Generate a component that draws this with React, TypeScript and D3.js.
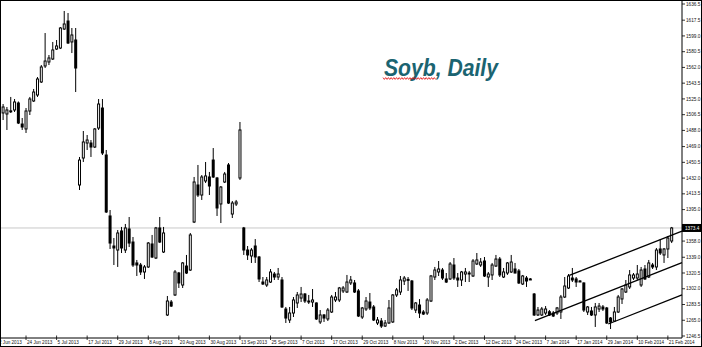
import React from "react";
import * as d3 from "d3";

// Soybean daily OHLC bars, [open, high, low, close], oldest first.
const candles: [number, number, number, number][] = [
  [1508.5, 1519.0, 1500.2, 1515.5], [1507.3, 1515.5, 1488.5, 1512.0], [1510.5, 1527.3, 1508.5, 1511.0],
  [1512.0, 1524.9, 1509.6, 1521.4], [1520.2, 1522.0, 1495.5, 1496.7], [1495.5, 1502.6, 1488.5, 1492.0],
  [1489.7, 1514.3, 1485.0, 1510.8], [1510.8, 1527.3, 1506.1, 1524.9], [1522.6, 1536.7, 1521.4, 1533.1],
  [1529.6, 1550.7, 1527.3, 1548.4], [1544.9, 1564.8, 1543.7, 1562.5], [1563.7, 1602.4, 1561.3, 1569.5],
  [1568.4, 1576.6, 1564.8, 1573.1], [1571.9, 1591.9, 1570.7, 1582.5], [1583.6, 1594.2, 1582.5, 1587.2],
  [1584.8, 1609.5, 1583.6, 1608.3], [1607.1, 1628.3, 1606.0, 1613.0], [1616.5, 1625.9, 1589.5, 1590.7],
  [1591.9, 1608.3, 1578.9, 1600.1], [1594.2, 1608.3, 1533.1, 1561.3], [1423.9, 1456.8, 1418.0, 1453.2],
  [1455.6, 1487.3, 1450.9, 1474.4], [1473.2, 1482.6, 1465.0, 1476.7], [1473.2, 1476.7, 1456.8, 1468.5],
  [1468.5, 1490.8, 1467.3, 1489.7], [1490.8, 1524.9, 1488.5, 1519.0], [1514.3, 1524.9, 1459.1, 1461.5],
  [1459.1, 1465.0, 1391.0, 1392.2], [1387.5, 1394.5, 1348.7, 1355.7], [1352.2, 1361.6, 1329.9, 1349.9],
  [1347.5, 1371.0, 1327.6, 1367.5], [1369.9, 1374.6, 1344.0, 1349.9], [1347.5, 1378.1, 1344.0, 1373.4],
  [1372.2, 1386.3, 1351.0, 1355.7], [1356.9, 1362.8, 1327.6, 1329.9], [1332.3, 1335.8, 1317.0, 1329.9],
  [1329.9, 1332.3, 1318.2, 1321.7], [1321.7, 1329.9, 1313.5, 1327.6], [1327.6, 1356.9, 1326.4, 1355.7],
  [1354.6, 1365.2, 1338.1, 1339.3], [1338.1, 1374.6, 1336.9, 1373.4], [1373.4, 1386.3, 1355.7, 1356.9],
  [1345.2, 1374.6, 1344.0, 1367.5], [1271.2, 1293.5, 1270.0, 1287.6], [1286.4, 1288.8, 1280.6, 1281.7],
  [1294.7, 1324.0, 1293.5, 1321.7], [1320.5, 1321.7, 1302.9, 1308.8], [1306.4, 1333.4, 1302.9, 1332.3],
  [1328.7, 1341.7, 1319.3, 1320.5], [1324.0, 1367.5, 1322.9, 1365.2], [1380.4, 1433.3, 1379.2, 1427.4],
  [1423.9, 1447.4, 1409.8, 1412.1], [1412.1, 1435.6, 1406.3, 1433.3], [1428.6, 1450.9, 1426.2, 1434.5],
  [1433.3, 1439.2, 1412.1, 1422.7], [1453.2, 1467.3, 1432.1, 1433.3], [1432.1, 1433.3, 1387.5, 1396.9],
  [1401.6, 1422.7, 1379.2, 1421.5], [1427.4, 1439.2, 1426.2, 1436.8], [1447.4, 1449.7, 1401.6, 1402.7],
  [1389.8, 1405.1, 1385.1, 1402.7], [1401.6, 1406.3, 1399.2, 1403.9], [1432.1, 1497.9, 1429.8, 1488.5],
  [1373.4, 1374.6, 1341.7, 1347.5], [1347.5, 1352.2, 1335.8, 1341.7], [1340.5, 1349.9, 1332.3, 1347.5],
  [1352.2, 1360.4, 1332.3, 1339.3], [1339.3, 1340.5, 1309.9, 1313.5], [1309.9, 1315.8, 1306.4, 1307.6],
  [1306.4, 1315.8, 1304.1, 1312.3], [1309.9, 1325.2, 1308.8, 1321.7], [1319.3, 1321.7, 1312.3, 1315.8],
  [1315.8, 1326.4, 1312.3, 1319.3], [1312.3, 1315.8, 1279.4, 1280.6], [1278.2, 1280.6, 1261.8, 1267.6],
  [1265.3, 1280.6, 1261.8, 1273.5], [1273.5, 1292.3, 1268.8, 1288.8], [1285.3, 1298.2, 1279.4, 1294.7],
  [1291.1, 1304.1, 1286.4, 1295.8], [1295.8, 1297.0, 1285.3, 1287.6], [1287.6, 1294.7, 1284.1, 1287.0],
  [1286.4, 1301.7, 1280.6, 1288.8], [1285.3, 1286.0, 1265.3, 1266.5], [1263.0, 1277.0, 1260.6, 1271.2],
  [1271.2, 1272.3, 1263.0, 1267.6], [1266.5, 1279.4, 1264.1, 1277.0], [1274.7, 1294.7, 1273.5, 1292.3],
  [1288.8, 1298.2, 1286.4, 1292.3], [1288.8, 1304.1, 1286.4, 1302.9], [1299.4, 1305.2, 1297.0, 1302.9],
  [1298.2, 1318.2, 1297.0, 1309.9], [1308.8, 1317.0, 1306.4, 1312.3], [1308.8, 1312.3, 1297.0, 1298.2],
  [1299.4, 1301.7, 1268.8, 1270.0], [1268.8, 1280.6, 1266.5, 1279.4], [1278.2, 1292.3, 1275.9, 1287.6],
  [1286.4, 1297.0, 1277.0, 1279.4], [1280.6, 1282.9, 1264.1, 1265.3], [1261.8, 1268.8, 1259.4, 1265.3],
  [1264.1, 1267.6, 1255.9, 1258.2], [1258.2, 1265.3, 1257.1, 1261.8], [1261.8, 1288.8, 1260.6, 1279.4],
  [1263.0, 1295.8, 1261.8, 1294.7], [1294.7, 1302.9, 1292.3, 1300.6], [1298.2, 1317.0, 1294.7, 1312.3],
  [1311.1, 1317.0, 1306.4, 1314.6], [1313.0, 1315.8, 1299.4, 1312.0], [1311.1, 1312.3, 1277.0, 1279.4],
  [1277.0, 1286.4, 1273.5, 1285.3], [1282.9, 1289.9, 1267.6, 1273.5], [1274.7, 1277.0, 1271.2, 1272.3],
  [1273.5, 1291.1, 1271.2, 1288.8], [1287.6, 1318.2, 1286.4, 1317.0], [1315.8, 1327.6, 1312.3, 1324.0],
  [1321.7, 1334.6, 1317.0, 1325.2], [1324.0, 1326.4, 1312.3, 1314.6], [1313.5, 1320.5, 1308.8, 1309.9],
  [1313.5, 1333.4, 1312.3, 1331.1], [1329.9, 1338.1, 1312.3, 1314.6], [1314.6, 1320.5, 1304.1, 1312.3],
  [1312.3, 1322.9, 1305.2, 1321.7], [1319.3, 1326.4, 1309.9, 1321.7], [1320.5, 1322.9, 1309.9, 1319.3],
  [1317.0, 1336.9, 1315.8, 1334.6], [1331.1, 1344.0, 1329.9, 1335.8], [1329.9, 1338.1, 1327.6, 1333.4],
  [1334.6, 1339.3, 1315.8, 1317.0], [1315.8, 1321.7, 1304.1, 1319.3], [1318.2, 1332.3, 1312.3, 1329.9],
  [1328.7, 1341.7, 1327.6, 1336.9], [1336.9, 1339.3, 1315.8, 1318.2], [1315.8, 1326.4, 1314.6, 1321.7],
  [1320.5, 1333.4, 1318.2, 1332.3], [1321.7, 1341.7, 1320.5, 1333.4], [1325.2, 1332.3, 1320.0, 1320.5],
  [1322.9, 1325.2, 1307.6, 1308.8], [1307.6, 1318.2, 1306.4, 1317.0], [1314.6, 1317.0, 1304.1, 1311.1],
  [1313.5, 1314.6, 1312.3, 1313.0], [1295.8, 1297.0, 1270.0, 1271.2], [1271.2, 1280.6, 1270.0, 1277.0],
  [1271.2, 1280.6, 1270.0, 1278.2], [1273.5, 1281.7, 1271.2, 1278.2], [1275.0, 1277.0, 1270.0, 1271.2],
  [1273.5, 1275.9, 1268.8, 1270.0], [1273.5, 1280.6, 1271.2, 1279.4], [1274.7, 1294.7, 1266.5, 1292.3],
  [1292.3, 1315.8, 1291.1, 1305.2], [1302.9, 1319.3, 1301.7, 1317.0], [1314.6, 1326.4, 1309.9, 1312.3],
  [1313.5, 1315.8, 1304.1, 1309.9], [1311.1, 1312.3, 1309.9, 1310.6], [1308.8, 1309.5, 1274.7, 1277.0],
  [1274.7, 1281.7, 1271.2, 1280.6], [1275.9, 1280.6, 1270.0, 1271.2], [1271.2, 1285.3, 1257.1, 1280.6],
  [1278.2, 1285.3, 1274.7, 1281.7], [1280.6, 1282.9, 1275.9, 1278.2], [1279.4, 1280.6, 1260.6, 1261.8],
  [1267.6, 1268.8, 1254.7, 1263.0], [1264.1, 1280.6, 1263.0, 1274.7], [1274.7, 1294.7, 1273.5, 1292.3],
  [1290.0, 1302.9, 1284.1, 1301.7], [1298.2, 1312.3, 1297.0, 1306.4], [1304.1, 1324.0, 1301.7, 1318.2],
  [1314.6, 1320.5, 1312.3, 1318.2], [1314.6, 1329.9, 1312.3, 1319.3], [1306.4, 1327.6, 1304.1, 1324.0],
  [1325.2, 1329.9, 1312.3, 1313.5], [1315.8, 1335.8, 1314.6, 1332.3], [1329.9, 1332.3, 1325.2, 1327.6],
  [1327.6, 1349.9, 1324.0, 1347.5], [1348.7, 1360.4, 1341.7, 1344.0], [1341.7, 1349.9, 1332.3, 1348.7],
  [1348.7, 1364.0, 1338.1, 1361.6], [1358.1, 1374.6, 1355.7, 1373.4],
];

// Time axis labels, one every 8 bars, first one two bars before the first candle.
const dateLabels = [
  "12 Jun 2013", "24 Jun 2013", "5 Jul 2013", "17 Jul 2013", "29 Jul 2013", "8 Aug 2013",
  "20 Aug 2013", "30 Aug 2013", "13 Sep 2013", "25 Sep 2013", "7 Oct 2013", "17 Oct 2013",
  "29 Oct 2013", "8 Nov 2013", "20 Nov 2013", "2 Dec 2013", "12 Dec 2013", "24 Dec 2013",
  "7 Jan 2014", "17 Jan 2014", "29 Jan 2014", "10 Feb 2014", "21 Feb 2014",
];
const firstLabelBar = -2;
const labelEvery = 8;

// Price scale labels (1376.5 is covered by the last-price tag).
const priceTicks = [
  1636.5, 1617.5, 1599.0, 1580.5, 1562.0, 1543.5, 1525.0, 1506.5, 1488.0, 1469.0, 1450.5,
  1432.0, 1413.5, 1395.0, 1358.0, 1339.0, 1320.5, 1302.0, 1283.5, 1265.0, 1246.5,
];
const lastPrice = 1373.4;

// Rising channel: anchor (bar, price) for each line, common slope per bar.
const channelBars = [139.2, 148.2, 158.4];
const channelPrices = [1264.5, 1317.6, 1260.6];
const channelSlope = 1.77;

const W = 702;
const H = 347;
const PLOT_RIGHT = 682;
const AXIS_Y = 338;
const FONT = "'Liberation Sans', Arial, sans-serif";

export default function App() {
  const x = d3.scaleLinear().domain([-0.81, 177.7]).range([0, PLOT_RIGHT]);
  const y = d3.scaleLinear().domain([1246.5, 1641.2]).range([336, 0]);
  const fmt = d3.format(".1f");
  const lastBar = x.domain()[1];

  // spell-check squiggle under the first word of the title
  const squiggle: string[] = [];
  for (let k = 0, px = 383; px <= 436; k++, px += 1.35) {
    squiggle.push(`${px.toFixed(2)},${k % 2 === 0 ? 77.6 : 79.4}`);
  }

  const lastY = y(lastPrice);

  return (
    <svg
      width={W}
      height={H}
      viewBox={`0 0 ${W} ${H}`}
      style={{ position: "absolute", left: 0, top: 0, background: "#fff" }}
    >
      <rect x={0} y={0} width={W} height={H} fill="#fff" />

      {/* last price line */}
      <line x1={0} x2={PLOT_RIGHT} y1={lastY} y2={lastY} stroke="#c8c8c8" strokeWidth={1} />

      {/* candles */}
      <g>
        {candles.map(([o, h, l, c], i) => {
          const cx = x(i);
          const up = c >= o;
          const top = y(Math.max(o, c));
          const bot = y(Math.min(o, c));
          const bh = Math.max(bot - top, 1);
          return (
            <g key={i}>
              <line x1={cx} x2={cx} y1={y(h)} y2={y(l)} stroke="#000" strokeWidth={1} />
              {up ? (
                <rect x={cx - 1} y={top} width={2} height={bh} fill="#fff" stroke="#000" strokeWidth={1} />
              ) : (
                <rect x={cx - 1.5} y={top - 0.5} width={3} height={bh + 1} fill="#000" />
              )}
            </g>
          );
        })}
      </g>

      {/* channel lines */}
      <g>
        {channelBars.map((b, k) => {
          const p0 = channelPrices[k];
          const p1 = p0 + channelSlope * (lastBar - b);
          return (
            <line
              key={k}
              x1={x(b)}
              y1={y(p0)}
              x2={x(lastBar)}
              y2={y(p1)}
              stroke="#000"
              strokeWidth={1.3}
            />
          );
        })}
      </g>

      {/* title */}
      <text
        x={384}
        y={76}
        fontFamily={FONT}
        fontWeight="bold"
        fontStyle="italic"
        fontSize={23}
        fill="#1b6471"
        textLength={114}
        lengthAdjust="spacingAndGlyphs"
      >
        Soyb, Daily
      </text>
      <polyline points={squiggle.join(" ")} fill="none" stroke="#e00000" strokeWidth={0.8} />

      {/* price axis */}
      <line x1={PLOT_RIGHT} x2={PLOT_RIGHT} y1={0} y2={AXIS_Y} stroke="#000" strokeWidth={1} />
      {priceTicks.map((v) => (
        <g key={v}>
          <line x1={PLOT_RIGHT} x2={PLOT_RIGHT + 3} y1={y(v)} y2={y(v)} stroke="#000" strokeWidth={0.8} />
          <text x={PLOT_RIGHT + 4} y={y(v) + 1.6} fontFamily={FONT} fontSize={4.7} fill="#111">
            {fmt(v)}
          </text>
        </g>
      ))}
      <rect x={PLOT_RIGHT} y={lastY - 4} width={W - PLOT_RIGHT} height={8} fill="#000" />
      <text x={PLOT_RIGHT + 3} y={lastY + 1.6} fontFamily={FONT} fontSize={4.7} fill="#fff">
        {fmt(lastPrice)}
      </text>

      {/* time axis */}
      <line x1={0} x2={PLOT_RIGHT} y1={AXIS_Y} y2={AXIS_Y} stroke="#000" strokeWidth={1} />
      {dateLabels.map((d, k) => {
        const bx = x(firstLabelBar + k * labelEvery);
        return (
          <g key={d}>
            <line x1={bx} x2={bx} y1={AXIS_Y - 2.5} y2={AXIS_Y + 2} stroke="#000" strokeWidth={0.8} />
            <text x={bx + 1} y={343.5} fontFamily={FONT} fontSize={4.6} fill="#111">
              {d}
            </text>
          </g>
        );
      })}

      {/* frame */}
      <rect x={0.5} y={0.5} width={W - 1} height={H - 1} fill="none" stroke="#000" strokeWidth={1} />
    </svg>
  );
}
